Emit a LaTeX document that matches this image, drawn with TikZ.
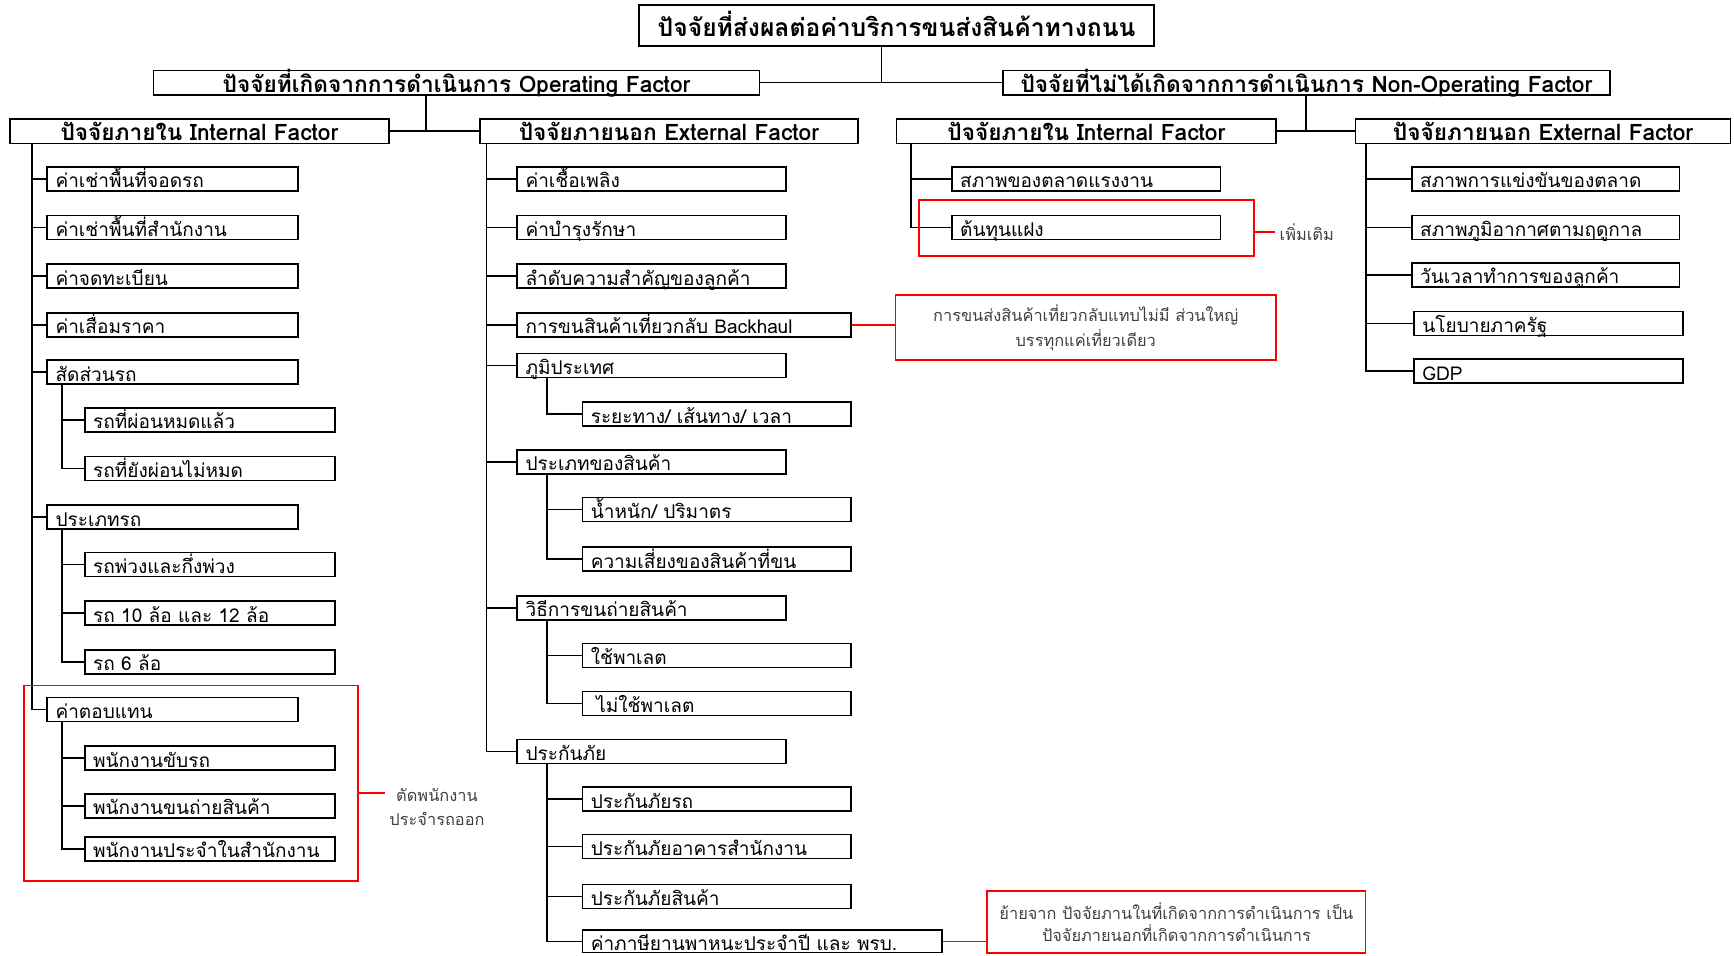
\documentclass[tikz,border=0pt]{standalone}
\usepackage{fontspec}
\newfontfamily\thai[Script=Thai]{Loma}
\newcommand\fItem{\thai\fontsize{17.2}{17.2}\selectfont}
\newcommand\fHead{\thai\bfseries\fontsize{20.5}{20.5}\selectfont}
\newcommand\fTitle{\thai\bfseries\fontsize{22.3}{22.3}\selectfont}
\newcommand\fNote{\thai\fontsize{14.8}{22}\selectfont}
\begin{document}
\begin{tikzpicture}[x=1pt, y=-1pt,
  link/.style={line width=1.5pt},
  redlink/.style={line width=1.6pt, red},
  frame/.style={draw, line width=1.5pt, anchor=north west, inner sep=0pt},
  item/.style={frame, inner xsep=7.5pt, text height=19pt, text depth=2.7pt, align=left, font=\fItem},
  head/.style={frame, inner xsep=0pt, text height=19.5pt, text depth=2.5pt, align=center, font=\fHead},
  redframe/.style={draw=red, line width=1.6pt, anchor=north west, inner sep=0pt},
  note/.style={font=\fNote, text=black!75, align=center, inner sep=0pt},
  wA/.style={item, text width=212pt},
  wB/.style={item, text width=211pt},
  wC/.style={item, text width=228pt},
]
\useasboundingbox (0,0) rectangle (1568,864);

% title and first two levels
\node[frame, text width=466pt, text height=28pt, text depth=9pt, align=center, font=\fTitle] (title) at (577,4) {ปัจจัยที่ส่งผลต่อค่าบริการขนส่งสินค้าทางถนน};
\node[head, text width=548pt] (op) at (138,63) {ปัจจัยที่เกิดจากการดำเนินการ Operating Factor};
\node[head, text width=549pt] (nonop) at (906,63) {ปัจจัยที่ไม่ได้เกิดจากการดำเนินการ Non-Operating Factor};
\node[head, text width=343pt] (intL) at (8,107) {ปัจจัยภายใน Internal Factor};
\node[head, text width=342pt] (extL) at (433,107) {ปัจจัยภายนอก External Factor};
\node[head, text width=343pt] (intR) at (810,107) {ปัจจัยภายใน Internal Factor};
\node[head, text width=339pt] (extR) at (1225,107) {ปัจจัยภายนอก External Factor};

\coordinate (j0) at (797,75);
\coordinate (j1) at (385,116);
\coordinate (j2) at (1181,116);
\draw[link] (title.south -| j0) -- (j0);
\draw[link] (op.east) -- (nonop.west);
\draw[link] (op.south -| j1) -- (intL.east -| j1);
\draw[link] (intL.east) -- (extL.west);
\draw[link] (nonop.south -| j2) -- (intR.east -| j2);
\draw[link] (intR.east) -- (extR.west);

% operating, internal
\node[wA] (a1) at (42,150) {ค่าเช่าพื้นที่จอดรถ};
\node[wA] (a2) at (42,194) {ค่าเช่าพื้นที่สำนักงาน};
\node[wA] (a3) at (42,238) {ค่าจดทะเบียน};
\node[wA] (a4) at (42,282) {ค่าเสื่อมราคา};
\node[wA] (a5) at (42,325) {สัดส่วนรถ};
\node[wA] (a6) at (42,456) {ประเภทรถ};
\node[wA] (a7) at (42,630) {ค่าตอบแทน};
\node[wB] (b1) at (76,368) {รถที่ผ่อนหมดแล้ว};
\node[wB] (b2) at (76,412) {รถที่ยังผ่อนไม่หมด};
\node[wB] (b3) at (76,499) {รถพ่วงและกึ่งพ่วง};
\node[wB] (b4) at (76,543) {รถ 10 ล้อ และ 12 ล้อ};
\node[wB] (b5) at (76,587) {รถ 6 ล้อ};
\node[wB] (b6) at (76,674) {พนักงานขับรถ};
\node[wB] (b7) at (76,717) {พนักงานขนถ่ายสินค้า};
\node[wB] (b8) at (76,756) {พนักงานประจำในสำนักงาน};

\coordinate (t1) at (29,0);
\coordinate (s1) at (56,0);
\foreach \n in {a1,a2,a3,a4,a5,a6,a7} \draw[link] (intL.south -| t1) |- (\n.west);
\foreach \n in {b1,b2} \draw[link] (a5.south -| s1) |- (\n.west);
\foreach \n in {b3,b4,b5} \draw[link] (a6.south -| s1) |- (\n.west);
\foreach \n in {b6,b7,b8} \draw[link] (a7.south -| s1) |- (\n.west);

% operating, external
\node[wC] (c1) at (467,150) {ค่าเชื้อเพลิง};
\node[wC] (c2) at (467,194) {ค่าบำรุงรักษา};
\node[wC] (c3) at (467,238) {ลำดับความสำคัญของลูกค้า};
\node[item, text width=287pt] (c4) at (467,282) {การขนสินค้าเที่ยวกลับ Backhaul};
\node[wC] (c5) at (467,319) {ภูมิประเทศ};
\node[wC] (c6) at (467,406) {ประเภทของสินค้า};
\node[wC] (c7) at (467,538) {วิธีการขนถ่ายสินค้า};
\node[wC] (c8) at (467,668) {ประกันภัย};
\node[wC] (d1) at (526,363) {ระยะทาง/ เส้นทาง/ เวลา};
\node[wC] (d2) at (526,449) {น้ำหนัก/ ปริมาตร};
\node[wC] (d3) at (526,494) {ความเสี่ยงของสินค้าที่ขน};
\node[wC] (d4) at (526,581) {ใช้พาเลต};
\node[wC] (d5) at (526,624.5) {\hspace*{5pt}ไม่ใช้พาเลต};
\node[wC] (d6) at (526,711) {ประกันภัยรถ};
\node[wC] (d7) at (526,754) {ประกันภัยอาคารสำนักงาน};
\node[wC] (d8) at (526,799) {ประกันภัยสินค้า};
\node[item, text width=310pt, text height=17.8pt, text depth=2.4pt] (d9) at (526,840.5) {ค่าภาษียานพาหนะประจำปี และ พรบ.};

\coordinate (t2) at (440,0);
\coordinate (s2) at (494.6,0);
\foreach \n in {c1,c2,c3,c4,c5,c6,c7,c8} \draw[link] (extL.south -| t2) |- (\n.west);
\draw[link] (c5.south -| s2) |- (d1.west);
\foreach \n in {d2,d3} \draw[link] (c6.south -| s2) |- (\n.west);
\foreach \n in {d4,d5} \draw[link] (c7.south -| s2) |- (\n.west);
\foreach \n in {d6,d7,d8,d9} \draw[link] (c8.south -| s2) |- (\n.west);

% non-operating, internal
\node[wC] (e1) at (860,150) {สภาพของตลาดแรงงาน};
\node[wC] (e2) at (860,194) {ต้นทุนแฝง};
\coordinate (t3) at (824,0);
\foreach \n in {e1,e2} \draw[link] (intR.south -| t3) |- (\n.west);

% non-operating, external
\node[item, text width=227pt] (f1) at (1276,150) {สภาพการแข่งขันของตลาด};
\node[item, text width=227pt] (f2) at (1276,194) {สภาพภูมิอากาศตามฤดูกาล};
\node[item, text width=227pt] (f3) at (1276,237) {วันเวลาทำการของลูกค้า};
\node[item, text width=228pt] (f4) at (1278,281) {นโยบายภาครัฐ};
\node[item, text width=228pt] (f5) at (1278,324) {GDP};
\coordinate (t4) at (1235,0);
\foreach \n in {f1,f2,f3,f4,f5} \draw[link] (extR.south -| t4) |- (\n.west);

% remarks in red frames
\node[redframe, minimum width=302pt, minimum height=177pt] (r1) at (21,619) {};
\node[note, anchor=west] (n1) at (352,730) {ตัดพนักงาน\\ประจำรถออก};
\draw[redlink] (r1.east |- 0,717) -- ([xshift=-4pt]n1.west |- 0,717);

\node[redframe, minimum width=303pt, minimum height=51pt] (r2) at (830,180) {};
\node[note, anchor=west] (n2) at (1157,209.5) {เพิ่มเติม};
\draw[redlink] (r2.east |- n2.west) -- ([xshift=-4pt]n2.west);

\node[redframe, minimum width=344pt, minimum height=59pt, font=\fNote, text=black!75, align=center] (r3) at (809,266) {การขนส่งสินค้าเที่ยวกลับแทบไม่มี ส่วนใหญ่\\บรรทุกแค่เที่ยวเดียว};
\draw[redlink] (c4.east) -- (c4.east -| r3.west);

\node[redframe, minimum width=342pt, minimum height=56pt, font=\thai\fontsize{14.8}{20}\selectfont, text=black!75, align=center] (r4) at (892,805) {ย้ายจาก ปัจจัยภานในที่เกิดจากการดำเนินการ เป็น\\ปัจจัยภายนอกที่เกิดจากการดำเนินการ};
\draw[redlink] (d9.east) -- (d9.east -| r4.west);
\end{tikzpicture}
\end{document}
